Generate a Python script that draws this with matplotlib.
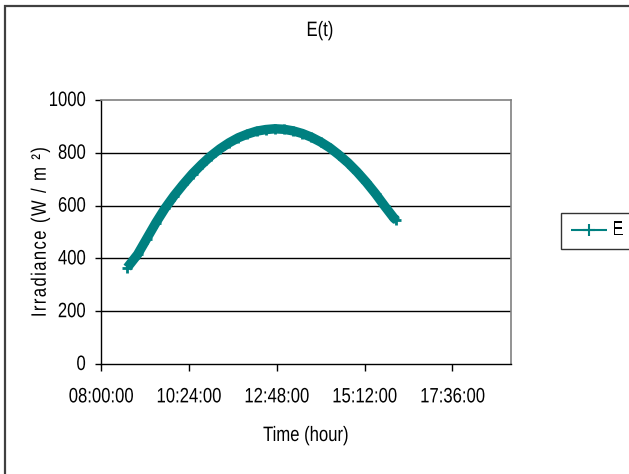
import matplotlib
matplotlib.use("Agg")
import matplotlib.pyplot as plt
from matplotlib.patches import Rectangle
from matplotlib.patheffects import AbstractPathEffect
from matplotlib.transforms import Affine2D

# ---- data ----
times = ["08:43", "09:00", "09:15", "09:30", "09:45", "10:00", "10:15", "10:30",
         "10:45", "11:00", "11:15", "11:30", "11:45", "12:00", "12:15", "12:30",
         "12:45", "13:00", "13:15", "13:30", "13:45", "14:00", "14:15", "14:30",
         "14:45", "15:00", "15:15", "15:30", "15:45", "16:00", "16:04"]
irradiance = [365, 415, 475, 535, 590, 638, 681, 721,
              756, 788, 815, 838, 857, 871, 882, 888,
              891, 889, 883, 873, 859, 841, 819, 792,
              762, 727, 688, 645, 598, 553, 545]
series_name = "E"
title = "E(t)"
x_label = "Time (hour)"
y_label = "Irradiance (W / m ²)"
x_tick_labels = ["08:00:00", "10:24:00", "12:48:00", "15:12:00", "17:36:00"]
y_ticks = [0, 200, 400, 600, 800, 1000]
x_min, x_max = "08:00", "19:12"


def to_hours(s):
    parts = s.split(":")
    return int(parts[0]) + int(parts[1]) / 60 + (int(parts[2]) / 3600 if len(parts) > 2 else 0)


hours = [to_hours(t) for t in times]
x_ticks = [to_hours(t) for t in x_tick_labels]


class Stretch(AbstractPathEffect):
    """Stretch glyphs vertically about their baseline (narrow, tall look)."""
    def __init__(self, sy=1.25):
        super().__init__()
        self.sy = sy

    def draw_path(self, renderer, gc, tpath, affine, rgbFace=None):
        renderer.draw_path(gc, tpath, Affine2D().scale(1.0, self.sy) + affine, rgbFace)


stretch = [Stretch(1.25)]
plt.rcParams["font.family"] = ["Liberation Sans", "DejaVu Sans"]
fs = 12

W, H = 629, 474
fig = plt.figure(figsize=(W / 100, H / 100), dpi=100)
fig.patch.set_facecolor("white")

# outer chart border (left and top visible)
fig.patches.append(Rectangle((4.5 / W, -0.05), 1.1, (H - 5.5) / H + 0.05,
                             transform=fig.transFigure, fill=False,
                             edgecolor="#404040", lw=1.6))

ax = fig.add_axes([101 / W, 1 - 364 / H, 410 / W, 264 / H])
teal = "#008080"

for v in y_ticks[1:-1]:
    ax.axhline(v, color="black", lw=1.0, zorder=1)

line, = ax.plot(hours, irradiance, color=teal, lw=6.8, marker="+", markersize=7,
                markeredgewidth=2.0, solid_capstyle="butt", zorder=3)

ax.set_xlim(to_hours(x_min), to_hours(x_max))
ax.set_ylim(y_ticks[0], y_ticks[-1])
ax.set_xticks(x_ticks)
ax.set_xticklabels(x_tick_labels)
ax.set_yticks(y_ticks)

for side in ["left", "bottom"]:
    ax.spines[side].set_color("black")
    ax.spines[side].set_linewidth(1.0)
for side in ["top", "right"]:
    ax.spines[side].set_color("#808080")
    ax.spines[side].set_linewidth(1.2)

ax.tick_params(axis="x", direction="out", length=5, width=1, pad=14, labelsize=fs)
ax.tick_params(axis="y", direction="out", length=4, width=1, pad=7, labelsize=fs)
for lab in ax.get_xticklabels() + ax.get_yticklabels():
    lab.set_path_effects(stretch)

ax.set_xlabel(x_label, fontsize=fs, labelpad=17, path_effects=stretch)
# letter-spaced y label (hair spaces between characters)
ax.set_ylabel("\u200a".join(y_label), fontsize=fs, labelpad=0, path_effects=stretch)
fig.text(320 / W, 1 - 36 / H, title, fontsize=fs, ha="center", va="baseline",
         path_effects=stretch)

leg = fig.legend([line], [series_name], loc="center left",
                 bbox_to_anchor=(561 / W, 1 - 231 / H), fontsize=fs,
                 frameon=True, fancybox=False, borderpad=0.62,
                 handlelength=2.15, handletextpad=0.3, borderaxespad=0)
leg.get_frame().set_edgecolor("black")
leg.get_frame().set_linewidth(1.0)
for t in leg.get_texts():
    t.set_path_effects(stretch)
for h in leg.legend_handles:
    h.set_linewidth(1.5)
    h.set_markersize(9)
    h.set_markeredgewidth(1.5)

fig.savefig("out.png", dpi=100, facecolor="white")
